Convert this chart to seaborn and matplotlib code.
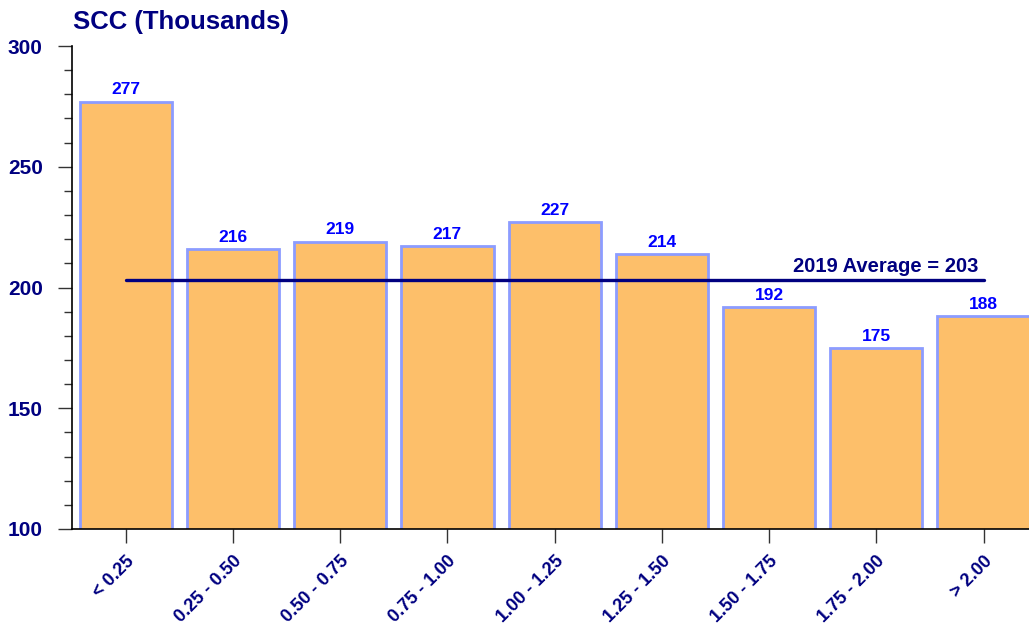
import matplotlib
matplotlib.use("Agg")
import matplotlib.pyplot as plt
import seaborn as sns
import pandas as pd
from matplotlib.ticker import MultipleLocator

# ---- data ----
categories = ["< 0.25", "0.25 - 0.50", "0.50 - 0.75", "0.75 - 1.00", "1.00 - 1.25",
              "1.25 - 1.50", "1.50 - 1.75", "1.75 - 2.00", "> 2.00"]
scc_values = [277, 216, 219, 217, 227, 214, 192, 175, 188]
average_2019 = 203
average_label = "2019 Average = 203"
title = "SCC (Thousands)"

NAVY = "#000080"
BLUE = "#0000FF"
BAR_FILL = "#FDBF6A"
BAR_EDGE = "#8C9CFF"

sns.set_style("ticks")
plt.rcParams["font.family"] = ["Liberation Sans", "DejaVu Sans"]
plt.rcParams["font.weight"] = "bold"

df = pd.DataFrame({"range": categories, "scc": scc_values})

fig = plt.figure(figsize=(10.29, 6.27), dpi=100)
ax = fig.add_axes([0.07, 0.1563, 0.938, 0.7703])

sns.barplot(data=df, x="range", y="scc", color=BAR_FILL, saturation=1,
            edgecolor=BAR_EDGE, linewidth=2, width=0.86, ax=ax)

# value labels
for i, v in enumerate(scc_values):
    ax.annotate(str(v), (i, v), xytext=(0, 3), textcoords="offset points",
                ha="center", va="bottom", color=BLUE, fontsize=12.5, fontweight="bold")

# average line
ax.plot([0, len(categories) - 1], [average_2019, average_2019], color=NAVY, lw=2.4)
ax.annotate(average_label, (len(categories) - 1, average_2019), xytext=(-4, 3),
            textcoords="offset points", ha="right", va="bottom",
            color=NAVY, fontsize=14.5, fontweight="bold")

ax.set_xlim(-0.5, len(categories) - 0.5)
ax.set_ylim(100, 300)
ax.yaxis.set_major_locator(MultipleLocator(50))
ax.yaxis.set_minor_locator(MultipleLocator(10))
ax.set_xlabel("")
ax.set_ylabel("")

sns.despine(ax=ax)
for s in ["left", "bottom"]:
    ax.spines[s].set_color("black")
    ax.spines[s].set_linewidth(1.2)

ax.tick_params(axis="y", which="major", length=10, width=1, color="#333333",
               pad=11, labelsize=15, labelcolor=NAVY)
ax.tick_params(axis="y", which="minor", length=6, width=1, color="#333333")
ax.tick_params(axis="x", which="major", length=10, width=1, color="#333333",
               pad=7, labelsize=13, labelcolor=NAVY)
for lab in ax.get_yticklabels():
    lab.set_fontweight("bold")
for lab in ax.get_xticklabels():
    lab.set_fontweight("bold")
    lab.set_rotation(45)
    lab.set_ha("right")
    lab.set_va("top")
    lab.set_rotation_mode("anchor")

fig.text(73 / 1029, 1 - 22 / 627, title, ha="left", va="center",
         color=NAVY, fontsize=18.5, fontweight="bold")

fig.savefig("out.png", dpi=100)
